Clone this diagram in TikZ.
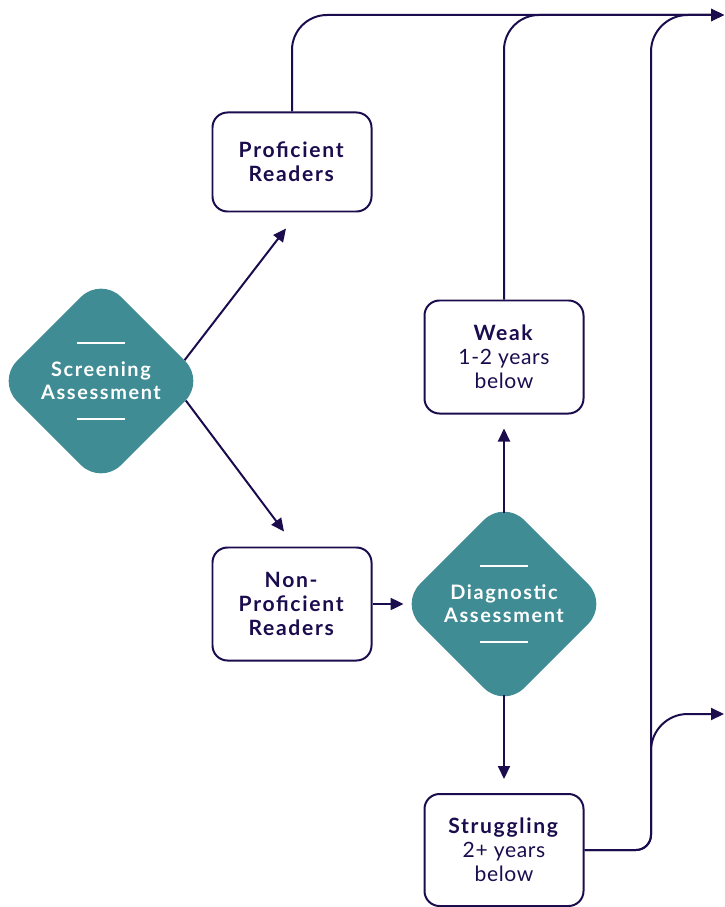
\documentclass[tikz,border=0pt]{standalone}
\usepackage{fontspec}
\setmainfont{Lato}[LetterSpace=3, BoldFeatures={LetterSpace=8}]
\usetikzlibrary{arrows.meta,shapes.geometric}
\definecolor{ink}{RGB}{27,12,77}
\definecolor{tealfill}{RGB}{64,140,149}
\tikzset{
  readerbox/.style={draw=ink, line width=1.7pt, rounded corners=0.45cm, minimum width=4.77cm,
    align=center, text=ink, font=\fontsize{18}{20.5}\selectfont},
  assess/.style={diamond, aspect=1, fill=tealfill, rounded corners=0.85cm, minimum size=6.25cm,
    inner sep=0pt, align=center, text=white, font=\bfseries\fontsize{17}{19.5}\selectfont},
  divider/.style={white, line width=1.3pt},
  flow/.style={ink, line width=1.7pt, -{Triangle[length=0.39cm,width=0.36cm]}},
}
\begin{document}
\begin{tikzpicture}[x=0.03cm, y=-0.03cm]
      \useasboundingbox (0,0) rectangle (724,907);
      \node[assess] (screen) at (101,381) {Screening\\Assessment};
      \node[assess] (diag) at (504,604) {Diagnostic\\Assessment};
      \draw[divider] ([shift={(-0.72cm,1.14cm)}]screen.center) -- ++(1.44cm,0);
      \draw[divider] ([shift={(-0.72cm,-1.14cm)}]screen.center) -- ++(1.44cm,0);
      \draw[divider] ([shift={(-0.72cm,1.14cm)}]diag.center) -- ++(1.44cm,0);
      \draw[divider] ([shift={(-0.72cm,-1.14cm)}]diag.center) -- ++(1.44cm,0);
      \node[readerbox, minimum height=2.97cm] (prof) at (292,162) {\textbf{Proficient}\\\textbf{Readers}};
      \node[readerbox, minimum height=3.39cm] (nonprof) at (292,604) {\textbf{Non-}\\\textbf{Proficient}\\\textbf{Readers}};
      \node[readerbox, minimum height=3.39cm] (weak) at (504,357) {\textbf{Weak}\\1-2 years\\below};
      \node[readerbox, minimum height=3.36cm] (strug) at (504,850) {\textbf{Struggling}\\2+ years\\below};
      \coordinate (outA) at (724,15);
      \coordinate (outB) at (724,714);
      \coordinate (busA) at (651,400);
      \coordinate (busB) at (651,800);
      \draw[flow] (screen.14) -- ([shift={(-0.18cm,-0.48cm)}]prof.south);
      \draw[flow] (screen.-13) -- ([shift={(-0.24cm,0.45cm)}]nonprof.north);
      \draw[flow, shorten >=-0.12cm] (nonprof.east) -- (diag.west);
      \draw[flow, shorten <=-0.39cm, shorten >=0.42cm] (diag.north) -- (weak.south);
      \draw[flow, shorten <=-0.39cm, shorten >=0.42cm] (diag.south) -- (strug.north);
      \draw[flow, rounded corners=1.05cm] (prof.north) |- (outA);
      \draw[flow, rounded corners=1.05cm] (weak.north) |- (outA);
      \draw[flow] (strug.east) [rounded corners=0.45cm] -| (busA) [rounded corners=1.1cm] |- (outA);
      \draw[flow] (strug.east) [rounded corners=0.45cm] -| (busB) [rounded corners=1.1cm] |- (outB);
    \end{tikzpicture}
\end{document}
